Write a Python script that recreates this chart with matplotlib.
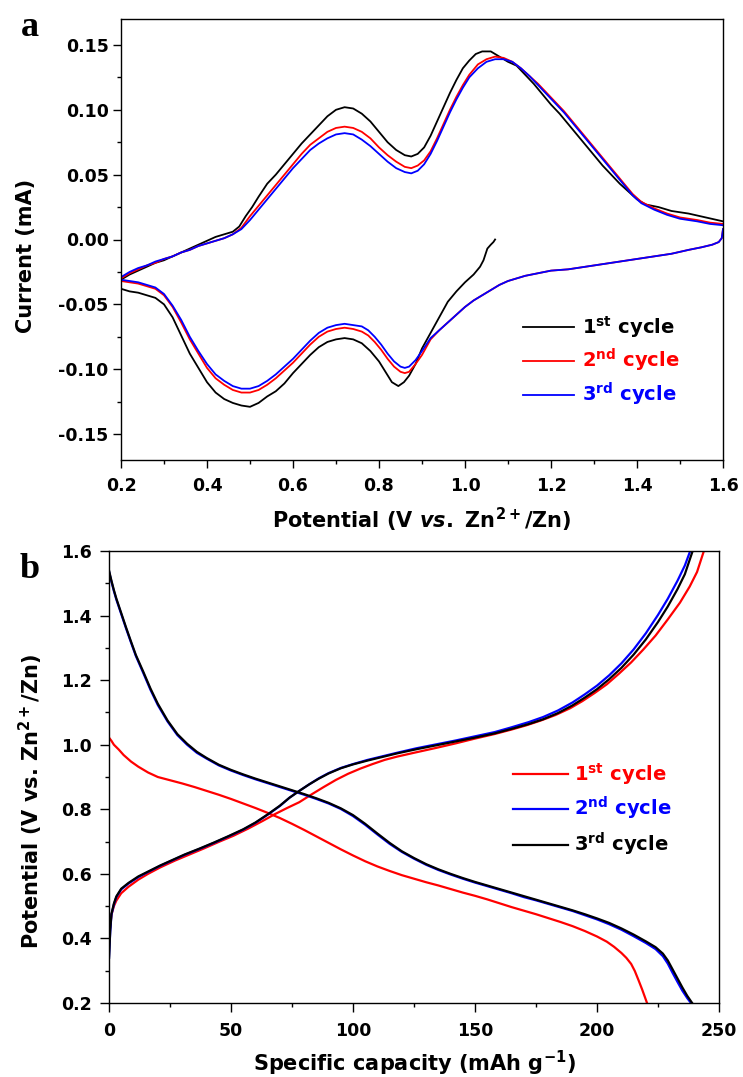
import matplotlib
matplotlib.use("Agg")
import matplotlib.pyplot as plt
from matplotlib.ticker import MultipleLocator, FuncFormatter

plt.rcParams['font.family'] = ['DejaVu Sans']
plt.rcParams['font.weight'] = 'bold'
plt.rcParams['axes.unicode_minus'] = False
plt.rcParams['mathtext.fontset'] = 'custom'
plt.rcParams['mathtext.rm'] = 'DejaVu Sans:bold'
plt.rcParams['mathtext.bf'] = 'DejaVu Sans:bold'
plt.rcParams['mathtext.it'] = 'DejaVu Sans:italic:bold'

# ---------------- Panel a : CV data ----------------
cv_labels = [r'1$^{\mathrm{st}}$ cycle', r'2$^{\mathrm{nd}}$ cycle', r'3$^{\mathrm{rd}}$ cycle']
cv_colors = ['black', '#ff0000', '#0000ff']

# cycle 1 (black): starts at OCV, cathodic to 0.2 V, then anodic to 1.6 V
cv1_v = [1.070, 1.066, 1.060, 1.052, 1.047, 1.043, 1.035, 1.020, 1.000, 0.980, 0.960, 0.940, 0.920,
         0.900, 0.885, 0.870, 0.858, 0.845, 0.830, 0.815, 0.800, 0.780, 0.760, 0.740, 0.720, 0.700,
         0.680, 0.660, 0.640, 0.620, 0.600, 0.580, 0.560, 0.540, 0.520, 0.500, 0.480, 0.460, 0.440,
         0.420, 0.400, 0.380, 0.360, 0.340, 0.320, 0.300, 0.280, 0.260, 0.240, 0.220, 0.200,
         0.200, 0.220, 0.240, 0.260, 0.280, 0.300, 0.320, 0.340, 0.360, 0.380, 0.400, 0.420, 0.440,
         0.460, 0.475, 0.490, 0.505, 0.520, 0.540, 0.560, 0.580, 0.600, 0.620, 0.640, 0.660, 0.680,
         0.700, 0.720, 0.740, 0.760, 0.780, 0.800, 0.820, 0.840, 0.860, 0.875, 0.890, 0.905, 0.920,
         0.935, 0.950, 0.965, 0.980, 0.995, 1.010, 1.025, 1.040, 1.060, 1.080, 1.100, 1.120, 1.140,
         1.160, 1.180, 1.200, 1.220, 1.240, 1.260, 1.280, 1.300, 1.320, 1.340, 1.360, 1.380, 1.400,
         1.420, 1.450, 1.480, 1.520, 1.560, 1.600]
cv1_i = [0.000, -0.002, -0.004, -0.007, -0.012, -0.016, -0.021, -0.027, -0.033, -0.040, -0.048, -0.060, -0.072,
         -0.084, -0.096, -0.105, -0.110, -0.113, -0.110, -0.102, -0.094, -0.086, -0.080, -0.077, -0.076, -0.077,
         -0.079, -0.083, -0.089, -0.096, -0.103, -0.111, -0.117, -0.121, -0.126, -0.129, -0.128, -0.126, -0.123,
         -0.118, -0.110, -0.099, -0.088, -0.074, -0.060, -0.050, -0.045, -0.043, -0.041, -0.040, -0.038,
         -0.031, -0.027, -0.024, -0.021, -0.018, -0.016, -0.013, -0.010, -0.007, -0.004, -0.001, 0.002, 0.004,
         0.006, 0.010, 0.018, 0.025, 0.033, 0.043, 0.050, 0.058, 0.066, 0.074, 0.081, 0.088, 0.095,
         0.100, 0.102, 0.101, 0.097, 0.091, 0.083, 0.075, 0.069, 0.065, 0.064, 0.066, 0.071, 0.080,
         0.091, 0.102, 0.113, 0.123, 0.132, 0.138, 0.143, 0.145, 0.145, 0.141, 0.137, 0.134, 0.127,
         0.120, 0.112, 0.104, 0.097, 0.089, 0.081, 0.073, 0.065, 0.057, 0.050, 0.043, 0.037, 0.031,
         0.027, 0.025, 0.022, 0.020, 0.017, 0.014]

# cycle 2 (red): cathodic 1.6 -> 0.2 V, then anodic 0.2 -> 1.6 V
cv2_v = [1.600, 1.597, 1.590, 1.575, 1.550, 1.520, 1.480, 1.440, 1.400, 1.360, 1.320, 1.280, 1.240,
         1.200, 1.170, 1.140, 1.120, 1.100, 1.080, 1.060, 1.040, 1.020, 1.000, 0.980, 0.960, 0.940,
         0.920, 0.900, 0.885, 0.870, 0.860, 0.850, 0.835, 0.820, 0.805, 0.790, 0.775, 0.760, 0.740,
         0.720, 0.700, 0.680, 0.660, 0.640, 0.620, 0.600, 0.580, 0.560, 0.540, 0.520, 0.500, 0.480,
         0.460, 0.440, 0.420, 0.400, 0.380, 0.360, 0.340, 0.320, 0.300, 0.280, 0.260, 0.240, 0.220, 0.200,
         0.200, 0.220, 0.240, 0.260, 0.280, 0.300, 0.320, 0.340, 0.360, 0.380, 0.400, 0.420, 0.440,
         0.460, 0.480, 0.500, 0.520, 0.540, 0.560, 0.580, 0.600, 0.620, 0.640, 0.660, 0.680, 0.700,
         0.720, 0.740, 0.760, 0.780, 0.800, 0.820, 0.840, 0.860, 0.875, 0.890, 0.905, 0.920, 0.935,
         0.950, 0.965, 0.980, 0.995, 1.010, 1.030, 1.050, 1.070, 1.090, 1.110, 1.130, 1.150, 1.170,
         1.190, 1.210, 1.230, 1.250, 1.270, 1.290, 1.310, 1.330, 1.350, 1.370, 1.390, 1.410, 1.440,
         1.470, 1.500, 1.540, 1.570, 1.600]
cv2_i = [0.008, 0.001, -0.002, -0.004, -0.006, -0.008, -0.011, -0.013, -0.015, -0.017, -0.019, -0.021, -0.023,
         -0.024, -0.026, -0.028, -0.030, -0.032, -0.035, -0.039, -0.043, -0.047, -0.052, -0.058, -0.064, -0.070,
         -0.077, -0.089, -0.096, -0.102, -0.103, -0.102, -0.098, -0.092, -0.085, -0.079, -0.074, -0.071, -0.069,
         -0.068, -0.069, -0.071, -0.075, -0.081, -0.088, -0.095, -0.101, -0.107, -0.112, -0.116, -0.118, -0.118,
         -0.116, -0.112, -0.107, -0.099, -0.088, -0.077, -0.064, -0.052, -0.043, -0.038, -0.036, -0.034, -0.033, -0.032,
         -0.030, -0.026, -0.023, -0.020, -0.018, -0.015, -0.013, -0.010, -0.008, -0.005, -0.003, -0.001, 0.001,
         0.004, 0.009, 0.018, 0.026, 0.034, 0.042, 0.050, 0.058, 0.066, 0.073, 0.078, 0.083, 0.086,
         0.087, 0.086, 0.083, 0.078, 0.071, 0.065, 0.060, 0.056, 0.055, 0.057, 0.061, 0.068, 0.078,
         0.089, 0.100, 0.110, 0.119, 0.127, 0.135, 0.139, 0.141, 0.140, 0.137, 0.132, 0.126, 0.120,
         0.113, 0.106, 0.099, 0.091, 0.083, 0.075, 0.067, 0.059, 0.051, 0.043, 0.035, 0.029, 0.024,
         0.020, 0.017, 0.015, 0.013, 0.012]

# cycle 3 (blue)
cv3_v = cv2_v
cv3_i = [0.008, 0.001, -0.002, -0.004, -0.006, -0.008, -0.011, -0.013, -0.015, -0.017, -0.019, -0.021, -0.023,
         -0.024, -0.026, -0.028, -0.030, -0.032, -0.035, -0.039, -0.043, -0.047, -0.052, -0.058, -0.064, -0.070,
         -0.076, -0.086, -0.093, -0.098, -0.099, -0.098, -0.094, -0.088, -0.081, -0.075, -0.070, -0.067, -0.066,
         -0.065, -0.066, -0.068, -0.072, -0.078, -0.085, -0.092, -0.098, -0.104, -0.109, -0.113, -0.115, -0.115,
         -0.113, -0.109, -0.104, -0.096, -0.086, -0.075, -0.062, -0.051, -0.042, -0.037, -0.035, -0.033, -0.032, -0.031,
         -0.029, -0.025, -0.022, -0.020, -0.017, -0.015, -0.013, -0.010, -0.008, -0.005, -0.003, -0.001, 0.001,
         0.004, 0.008, 0.015, 0.023, 0.031, 0.039, 0.047, 0.055, 0.062, 0.069, 0.074, 0.078, 0.081,
         0.082, 0.081, 0.077, 0.072, 0.066, 0.060, 0.055, 0.052, 0.051, 0.053, 0.058, 0.066, 0.076,
         0.087, 0.098, 0.108, 0.117, 0.125, 0.132, 0.137, 0.139, 0.139, 0.137, 0.132, 0.126, 0.119,
         0.112, 0.105, 0.098, 0.090, 0.082, 0.074, 0.066, 0.058, 0.050, 0.042, 0.034, 0.028, 0.023,
         0.019, 0.016, 0.014, 0.012, 0.011]

# ---------------- Panel b : GCD data ----------------
gcd_labels = [r'1$^{\mathrm{st}}$ cycle', r'2$^{\mathrm{nd}}$ cycle', r'3$^{\mathrm{rd}}$ cycle']
gcd_colors = ['#ff0000', '#0000ff', 'black']

dis1_q = [0, 1, 2, 4, 6, 9, 12, 16, 20, 25, 30, 35, 40, 45, 50, 55, 60, 65, 70, 75, 80, 85, 90, 95, 100,
          105, 110, 115, 120, 125, 130, 135, 140, 145, 150, 155, 160, 165, 170, 175, 180, 185, 190, 195,
          200, 204, 207, 210, 212, 214, 215.5, 217, 218.5, 219.5, 220.5]
dis1_v = [1.022, 1.012, 1.000, 0.985, 0.968, 0.948, 0.932, 0.914, 0.900, 0.890, 0.880, 0.869, 0.857, 0.845,
          0.832, 0.818, 0.804, 0.789, 0.773, 0.755, 0.736, 0.716, 0.696, 0.676, 0.657, 0.639, 0.623, 0.609,
          0.596, 0.585, 0.574, 0.564, 0.553, 0.542, 0.532, 0.521, 0.509, 0.497, 0.486, 0.475, 0.463, 0.451,
          0.438, 0.423, 0.406, 0.390, 0.374, 0.355, 0.340, 0.321, 0.299, 0.271, 0.242, 0.221, 0.200]
cha1_q = [0, 0.5, 1, 2, 3, 5, 8, 12, 16, 21, 27, 33, 39, 45, 51, 57, 63, 68, 73, 78, 83, 88, 93, 98, 103,
          108, 113, 118, 125, 134, 142, 150, 158, 165, 171, 177, 183, 189, 194, 199, 204, 209, 214, 219,
          224, 229, 234, 238, 241, 243.8]
cha1_v = [0.396, 0.440, 0.473, 0.500, 0.517, 0.540, 0.560, 0.582, 0.600, 0.620, 0.641, 0.660, 0.679, 0.699,
          0.718, 0.740, 0.764, 0.785, 0.804, 0.822, 0.846, 0.869, 0.891, 0.910, 0.926, 0.940, 0.953, 0.963,
          0.975, 0.990, 1.004, 1.019, 1.033, 1.047, 1.060, 1.075, 1.092, 1.113, 1.135, 1.160, 1.187, 1.220,
          1.255, 1.295, 1.338, 1.388, 1.440, 1.490, 1.535, 1.600]

dis2_q = [0, 1, 2, 3, 5, 7, 9, 11, 14, 17, 20, 24, 28, 32, 36, 40, 45, 50, 55, 60, 65, 70, 75, 80, 85, 90,
          95, 100, 105, 110, 115, 120, 125, 130, 135, 140, 145, 150, 155, 160, 165, 170, 175, 180, 185,
          190, 195, 200, 205, 210, 215, 220, 224, 227, 229, 231, 233, 235, 237, 238.5]
dis2_v = [1.537, 1.505, 1.476, 1.450, 1.405, 1.360, 1.317, 1.275, 1.223, 1.170, 1.123, 1.072, 1.030, 1.000,
          0.975, 0.957, 0.936, 0.920, 0.906, 0.893, 0.881, 0.869, 0.857, 0.845, 0.832, 0.818, 0.801, 0.779,
          0.752, 0.722, 0.693, 0.668, 0.647, 0.628, 0.612, 0.598, 0.585, 0.573, 0.562, 0.551, 0.540, 0.528,
          0.518, 0.507, 0.496, 0.485, 0.472, 0.459, 0.444, 0.427, 0.407, 0.386, 0.367, 0.345, 0.322, 0.293,
          0.265, 0.238, 0.215, 0.200]
cha2_q = [0, 0.5, 1, 2, 3, 5, 8, 12, 16, 21, 26, 31, 37, 43, 49, 55, 60, 65, 70, 74, 78, 82, 86, 90, 95,
          100, 106, 112, 118, 126, 134, 142, 150, 158, 165, 172, 178, 184, 190, 195, 200, 205, 210, 215,
          220, 225, 229, 233, 236, 238.2]
cha2_v = [0.340, 0.420, 0.473, 0.505, 0.528, 0.552, 0.570, 0.590, 0.606, 0.625, 0.642, 0.659, 0.677, 0.696,
          0.716, 0.737, 0.758, 0.783, 0.810, 0.836, 0.857, 0.877, 0.896, 0.912, 0.928, 0.940, 0.953, 0.964,
          0.975, 0.989, 1.001, 1.013, 1.026, 1.039, 1.054, 1.070, 1.086, 1.106, 1.131, 1.156, 1.183, 1.215,
          1.252, 1.295, 1.345, 1.402, 1.452, 1.508, 1.555, 1.600]

dis3_q = [0, 1, 2, 3, 5, 7, 9, 11, 14, 17, 20, 24, 28, 32, 36, 40, 45, 50, 55, 60, 65, 70, 75, 80, 85, 90,
          95, 100, 105, 110, 115, 120, 125, 130, 135, 140, 145, 150, 155, 160, 165, 170, 175, 180, 185,
          190, 195, 200, 205, 210, 215, 220, 224, 227, 229, 231, 233, 235, 237, 239.0]
dis3_v = [1.540, 1.508, 1.479, 1.453, 1.408, 1.363, 1.320, 1.278, 1.227, 1.174, 1.127, 1.075, 1.033, 1.003,
          0.978, 0.959, 0.938, 0.922, 0.908, 0.895, 0.883, 0.871, 0.859, 0.847, 0.834, 0.820, 0.803, 0.782,
          0.755, 0.725, 0.696, 0.670, 0.649, 0.630, 0.614, 0.600, 0.587, 0.575, 0.564, 0.553, 0.542, 0.531,
          0.520, 0.509, 0.498, 0.487, 0.475, 0.462, 0.448, 0.431, 0.412, 0.391, 0.373, 0.353, 0.332, 0.304,
          0.276, 0.248, 0.222, 0.200]
cha3_q = [0, 0.5, 1, 2, 3, 5, 8, 12, 16, 21, 26, 31, 37, 43, 49, 55, 60, 65, 70, 74, 78, 82, 86, 90, 95,
          100, 106, 112, 118, 126, 134, 142, 150, 158, 165, 172, 178, 184, 190, 195, 200, 205, 210, 215,
          220, 225, 229, 233, 236, 239.2]
cha3_v = [0.340, 0.425, 0.476, 0.508, 0.530, 0.554, 0.572, 0.592, 0.607, 0.626, 0.643, 0.660, 0.678, 0.697,
          0.717, 0.738, 0.759, 0.784, 0.811, 0.836, 0.857, 0.877, 0.895, 0.911, 0.927, 0.939, 0.951, 0.962,
          0.973, 0.986, 0.998, 1.010, 1.022, 1.035, 1.049, 1.064, 1.079, 1.098, 1.122, 1.146, 1.172, 1.203,
          1.238, 1.279, 1.326, 1.380, 1.428, 1.482, 1.528, 1.600]

# ---------------- Figure ----------------
W, H = 743, 1077
fig = plt.figure(figsize=(W / 100, H / 100), dpi=100)
axa = fig.add_axes([121 / W, 1 - 460 / H, 602 / W, 441 / H])
axb = fig.add_axes([109 / W, 1 - 1003 / H, 610 / W, 452 / H])

TICK_FS = 12.5
LABEL_FS = 15
LEG_FS = 14


def style(ax, major_len, ypad):
    for s in ax.spines.values():
        s.set_linewidth(1.0)
    ax.tick_params(which='both', direction='out', top=False, right=False,
                   labelsize=TICK_FS, width=1.0)
    ax.tick_params(which='major', length=major_len)
    ax.tick_params(which='minor', length=3)
    ax.tick_params(axis='x', which='major', pad=7)
    ax.tick_params(axis='y', which='major', pad=ypad)
    for lab in ax.get_xticklabels() + ax.get_yticklabels():
        lab.set_fontweight('bold')


# Panel a
cv_v = [cv1_v, cv2_v, cv3_v]
cv_i = [cv1_i, cv2_i, cv3_i]
for v, i, c, lab in zip(cv_v, cv_i, cv_colors, cv_labels):
    axa.plot(v, i, color=c, lw=1.3, label=lab)
axa.set_xlim(0.2, 1.6)
axa.set_ylim(-0.17, 0.17)
axa.xaxis.set_major_locator(MultipleLocator(0.2))
axa.xaxis.set_minor_locator(MultipleLocator(0.1))
axa.yaxis.set_major_locator(MultipleLocator(0.05))
axa.yaxis.set_minor_locator(MultipleLocator(0.025))
axa.xaxis.set_major_formatter(FuncFormatter(lambda x, p: f'{x:.1f}'))
axa.yaxis.set_major_formatter(FuncFormatter(lambda y, p: f'{y:.2f}' if abs(y) > 1e-9 else '0.00'))
style(axa, 5.5, 3.5)
axa.set_xlabel(r'Potential (V $\mathit{vs.}$ Zn$^{2+}$/Zn)', fontsize=LABEL_FS, fontweight='bold')
axa.set_ylabel('Current (mA)', fontsize=LABEL_FS, fontweight='bold')
axa.xaxis.set_label_coords(0.5, -0.136)
axa.xaxis.label.set_verticalalignment('center')
axa.yaxis.set_label_coords(-0.158, 0.463)
axa.yaxis.label.set_verticalalignment('center')
leg = axa.legend(loc='upper left', bbox_to_anchor=(0.668, 0.33), frameon=False, fontsize=LEG_FS,
                 handlelength=2.6, handletextpad=0.45, labelspacing=0.35, borderaxespad=0, borderpad=0)
for t, c in zip(leg.get_texts(), cv_colors):
    t.set_color(c)
    t.set_fontweight('bold')

# Panel b
q_list = [(dis1_q, dis1_v, cha1_q, cha1_v), (dis2_q, dis2_v, cha2_q, cha2_v), (dis3_q, dis3_v, cha3_q, cha3_v)]
for (dq, dv, cq, cv), c, lab in zip(q_list, gcd_colors, gcd_labels):
    axb.plot(dq, dv, color=c, lw=1.6, label=lab)
    axb.plot(cq, cv, color=c, lw=1.6)
axb.set_xlim(0, 250)
axb.set_ylim(0.2, 1.6)
axb.xaxis.set_major_locator(MultipleLocator(50))
axb.xaxis.set_minor_locator(MultipleLocator(25))
axb.yaxis.set_major_locator(MultipleLocator(0.2))
axb.yaxis.set_minor_locator(MultipleLocator(0.1))
axb.xaxis.set_major_formatter(FuncFormatter(lambda x, p: f'{x:.0f}'))
axb.yaxis.set_major_formatter(FuncFormatter(lambda y, p: f'{y:.1f}'))
style(axb, 6.5, 6)
axb.set_xlabel(r'Specific capacity (mAh g$^{-1}$)', fontsize=LABEL_FS, fontweight='bold')
axb.set_ylabel(r'Potential (V vs. Zn$^{2+}$/Zn)', fontsize=LABEL_FS, fontweight='bold')
axb.xaxis.set_label_coords(0.5, -0.133)
axb.xaxis.label.set_verticalalignment('center')
axb.yaxis.set_label_coords(-0.128, 0.447)
axb.yaxis.label.set_verticalalignment('center')
leg2 = axb.legend(loc='upper left', bbox_to_anchor=(0.663, 0.535), frameon=False, fontsize=LEG_FS,
                  handlelength=2.8, handletextpad=0.3, labelspacing=0.42, borderaxespad=0, borderpad=0)
for t, c in zip(leg2.get_texts(), gcd_colors):
    t.set_color(c)
    t.set_fontweight('bold')

fig.text(30 / W, 1 - 27 / H, 'a', family='Liberation Serif', fontweight='bold', fontsize=26,
         ha='center', va='center')
fig.text(30 / W, 1 - 570 / H, 'b', family='Liberation Serif', fontweight='bold', fontsize=26,
         ha='center', va='center')

fig.savefig('out.png', dpi=100, facecolor='white')
